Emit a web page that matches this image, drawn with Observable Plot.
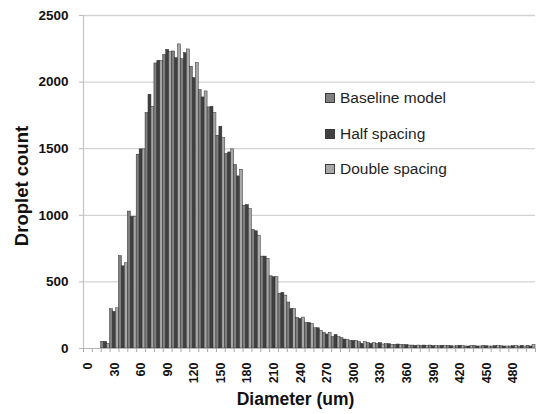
<!DOCTYPE html>
<html>
<head>
<meta charset="utf-8">
<script src="https://cdn.jsdelivr.net/npm/d3@7"></script>
<script src="https://cdn.jsdelivr.net/npm/@observablehq/plot@0.6"></script>
<style>
  html, body { margin: 0; padding: 0; background: #fff; }
  #wrap { position: relative; width: 537px; height: 414px; font-family: "Liberation Sans", Arial, sans-serif; }
  .leg { position: absolute; left: 325px; display: flex; align-items: center; font-size: 15.5px; color: #1e1e1e; white-space: nowrap; }
  .sw { width: 8px; height: 8px; border: 1px solid #3a3a3a; margin-right: 5px; }
</style>
</head>
<body>
<div id="wrap"></div>
<script>
const bins = d3.range(0, 501, 10);
const seriesNames = ["Baseline model", "Half spacing", "Double spacing"];
const seriesColors = ["#808080", "#404040", "#a8a8a8"];
const baseline = [0,0,50,295,693,1028,1455,1768,2140,2205,2230,2172,2115,1940,1810,1597,1460,1377,1072,890,690,542,410,345,230,192,152,117,85,77,57,47,40,35,32,27,25,22,20,22,18,20,17,15,18,20,15,17,15,15,20];
const half     = [0,0,50,275,617,988,1495,1905,2160,2242,2180,2217,2030,1885,1815,1665,1472,1292,1077,880,690,535,417,297,222,192,152,105,102,67,57,35,35,40,32,30,25,20,22,18,20,17,20,15,15,17,18,15,17,20,15];
const double   = [0,0,35,302,640,988,1495,1815,2158,2225,2283,2245,2142,1930,1767,1580,1495,1342,1047,847,672,535,397,297,232,185,132,117,85,62,57,47,40,30,27,27,22,22,20,17,18,15,17,18,15,15,17,15,20,15,25];
const yTicks = [0, 500, 1000, 1500, 2000, 2500];
const xLabelTicks = d3.range(0, 481, 30);

const allSeries = [baseline, half, double];
const table = [];
bins.forEach((b, i) => {
  allSeries.forEach((s, k) => {
    table.push({bin: b, k, series: seriesNames[k], value: s[i]});
  });
});
const step = 10;
const font = '"Liberation Sans", Arial, sans-serif';

const chart = Plot.plot({
  width: 537,
  height: 414,
  marginLeft: 83,
  marginRight: 2,
  marginTop: 15,
  marginBottom: 66,
  style: {fontFamily: font, background: "#fff"},
  x: {domain: [bins[0] - step / 2, bins[bins.length - 1] + step / 2]},
  y: {domain: [0, 2500]},
  color: {domain: seriesNames, range: seriesColors},
  marks: [
    Plot.ruleY(yTicks.slice(1), {stroke: "#d4d4d4", strokeWidth: 1.3}),
    Plot.rectY(table, {
      x1: d => d.bin - step / 2 + d.k * step / 3,
      x2: d => d.bin - step / 2 + (d.k + 1) * step / 3,
      y: "value",
      fill: "series",
      stroke: "#2e2e2e",
      strokeWidth: 0.5
    }),
    Plot.ruleX([bins[0] - step / 2], {stroke: "#c4c4c4", strokeWidth: 1.2}),
    Plot.ruleY([0], {stroke: "#b8b8b8", strokeWidth: 1.2}),
    Plot.axisY({ticks: yTicks, tickSize: 4, tickPadding: 11, stroke: "#b8b8b8", fill: "#111",
      fontSize: 13.5, fontWeight: "bold", label: null, tickFormat: d => String(d)}),
    Plot.axisX({ticks: d3.range(bins[0] - step / 2, bins[bins.length - 1] + step, step), tickSize: 4,
      stroke: "#a8a8a8", tickFormat: () => "", label: null}),
    Plot.axisX({ticks: xLabelTicks, tickSize: 0, tickPadding: 14, tickRotate: -90, fill: "#111",
      fontSize: 12.5, fontWeight: "bold", label: null, tickFormat: d => String(d)}),
    Plot.text(["Diameter (um)"], {frameAnchor: "bottom", dy: 56, dx: -14, lineAnchor: "bottom",
      textAnchor: "middle", fontSize: 17.5, fontWeight: "bold", fill: "#111"}),
    Plot.text(["Droplet count"], {frameAnchor: "left", dx: -61, dy: 4, rotate: -90, textAnchor: "middle",
      lineAnchor: "middle", fontSize: 18.5, fontWeight: "bold", fill: "#111"})
  ]
});

const wrap = document.getElementById("wrap");
wrap.appendChild(chart);
const legendY = [98, 133.5, 169];
seriesNames.forEach((name, k) => {
  const item = document.createElement("div");
  item.className = "leg";
  item.style.top = (legendY[k] - 10) + "px";
  item.style.height = "20px";
  const sw = document.createElement("div");
  sw.className = "sw";
  sw.style.background = seriesColors[k];
  const t = document.createElement("span");
  t.textContent = name;
  item.appendChild(sw);
  item.appendChild(t);
  wrap.appendChild(item);
});
</script>
</body>
</html>
